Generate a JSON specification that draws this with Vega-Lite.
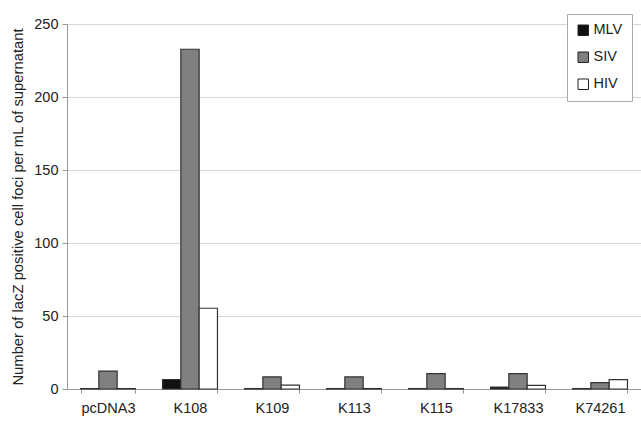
{
  "$schema": "https://vega.github.io/schema/vega-lite/v6.json",
  "autosize": "none",
  "width": 574,
  "height": 365,
  "padding": {"left": 67, "top": 24, "right": 0, "bottom": 32},
  "background": "white",
  "config": {
    "font": "Liberation Sans",
    "view": {"stroke": null}
  },
  "data": {
    "values": [
      {"plasmid": "pcDNA3", "virus": "MLV", "foci": 0.3},
      {"plasmid": "pcDNA3", "virus": "SIV", "foci": 12.3},
      {"plasmid": "pcDNA3", "virus": "HIV", "foci": 0.3},
      {"plasmid": "K108", "virus": "MLV", "foci": 6.5},
      {"plasmid": "K108", "virus": "SIV", "foci": 232.7},
      {"plasmid": "K108", "virus": "HIV", "foci": 55.3},
      {"plasmid": "K109", "virus": "MLV", "foci": 0.3},
      {"plasmid": "K109", "virus": "SIV", "foci": 8.3},
      {"plasmid": "K109", "virus": "HIV", "foci": 2.6},
      {"plasmid": "K113", "virus": "MLV", "foci": 0.3},
      {"plasmid": "K113", "virus": "SIV", "foci": 8.3},
      {"plasmid": "K113", "virus": "HIV", "foci": 0.3},
      {"plasmid": "K115", "virus": "MLV", "foci": 0.3},
      {"plasmid": "K115", "virus": "SIV", "foci": 10.5},
      {"plasmid": "K115", "virus": "HIV", "foci": 0.3},
      {"plasmid": "K17833", "virus": "MLV", "foci": 1.3},
      {"plasmid": "K17833", "virus": "SIV", "foci": 10.5},
      {"plasmid": "K17833", "virus": "HIV", "foci": 2.5},
      {"plasmid": "K74261", "virus": "MLV", "foci": 0.3},
      {"plasmid": "K74261", "virus": "SIV", "foci": 4.3},
      {"plasmid": "K74261", "virus": "HIV", "foci": 6.4}
    ]
  },
  "mark": {"type": "bar", "stroke": "#333333", "strokeWidth": 1.2},
  "encoding": {
    "x": {
      "field": "plasmid",
      "type": "nominal",
      "sort": ["pcDNA3", "K108", "K109", "K113", "K115", "K17833", "K74261"],
      "scale": {"paddingInner": 0.33, "paddingOuter": 0.165},
      "axis": {
        "title": null,
        "labelAngle": 0,
        "labelFontSize": 14.5,
        "labelColor": "#222222",
        "labelPadding": 8,
        "domainColor": "#999999",
        "tickColor": "#999999",
        "tickBand": "extent",
        "tickSize": 4,
        "grid": false
      }
    },
    "xOffset": {
      "field": "virus",
      "type": "nominal",
      "sort": ["MLV", "SIV", "HIV"],
      "scale": {"paddingInner": 0, "paddingOuter": 0}
    },
    "y": {
      "field": "foci",
      "type": "quantitative",
      "scale": {"domain": [0, 250], "nice": false},
      "axis": {
        "title": "Number of lacZ positive cell foci per mL of supernatant",
        "titleFontSize": 14.8,
        "titleFontWeight": "normal",
        "titleColor": "#222222",
        "titlePadding": 8,
        "values": [0, 50, 100, 150, 200, 250],
        "labelFontSize": 14.5,
        "labelColor": "#222222",
        "labelPadding": 4,
        "tickSize": 5,
        "tickColor": "#999999",
        "domainColor": "#999999",
        "gridColor": "#d6d6d6",
        "gridWidth": 1.2
      }
    },
    "fill": {
      "field": "virus",
      "type": "nominal",
      "sort": ["MLV", "SIV", "HIV"],
      "scale": {"domain": ["MLV", "SIV", "HIV"], "range": ["#111111", "#808080", "#ffffff"]},
      "legend": {
        "title": null,
        "orient": "none",
        "legendX": 500,
        "legendY": -10,
        "symbolType": "square",
        "symbolSize": 110,
        "symbolStrokeColor": "#222222",
        "symbolStrokeWidth": 1,
        "labelFontSize": 14.5,
        "labelColor": "#222222",
        "rowPadding": 11,
        "padding": 9,
        "strokeColor": "#aaaaaa",
        "fillColor": "white",
        "labelOffset": 3
      }
    }
  }
}
